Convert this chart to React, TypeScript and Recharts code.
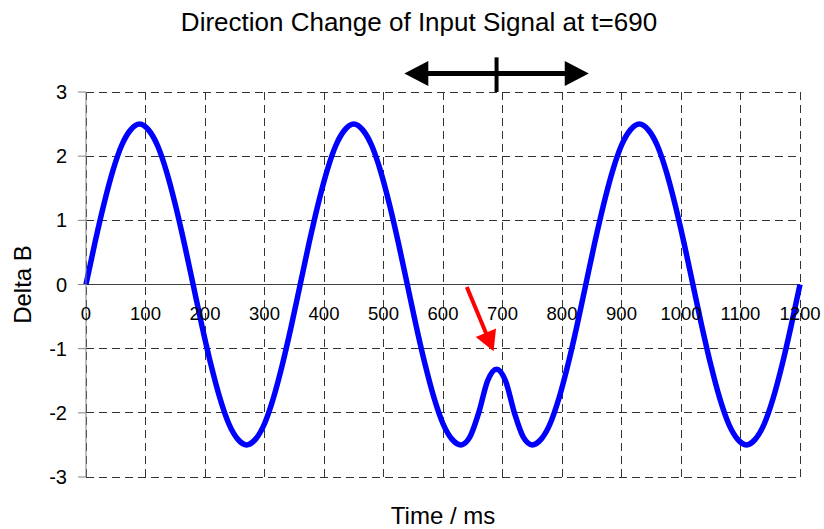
import React from "react";
import {
  LineChart,
  Line,
  XAxis,
  YAxis,
  CartesianGrid,
  ReferenceLine,
  Label,
} from "recharts";

// time axis (ms) and measured signal
const TIME = [
  0, 15, 30, 45, 60, 75, 90, 105, 120, 135, 150, 165, 180, 195, 210, 225, 240,
  255, 270, 285, 300, 315, 330, 345, 360, 375, 390, 405, 420, 435, 450, 465,
  480, 495, 510, 525, 540, 555, 570, 585, 600, 615, 630, 645, 660, 675, 690,
  705, 720, 735, 750, 765, 780, 795, 810, 825, 840, 855, 870, 885, 900, 915,
  930, 945, 960, 975, 990, 1005, 1020, 1035, 1050, 1065, 1080, 1095, 1110,
  1125, 1140, 1155, 1170, 1185, 1200,
];
const DELTA_B = [
  0, 0.65, 1.25, 1.77, 2.17, 2.41, 2.5, 2.41, 2.17, 1.77, 1.25, 0.65, 0,
  -0.65, -1.25, -1.77, -2.17, -2.41, -2.5, -2.41, -2.17, -1.77, -1.25, -0.65,
  0, 0.65, 1.25, 1.77, 2.17, 2.41, 2.5, 2.41, 2.17, 1.77, 1.25, 0.65, 0,
  -0.65, -1.25, -1.77, -2.17, -2.41, -2.5, -2.38, -2.0, -1.5, -1.32, -1.5,
  -2.0, -2.38, -2.5, -2.41, -2.17, -1.77, -1.25, -0.65, 0, 0.65, 1.25, 1.77,
  2.17, 2.41, 2.5, 2.41, 2.17, 1.77, 1.25, 0.65, 0, -0.65, -1.25, -1.77,
  -2.17, -2.41, -2.5, -2.41, -2.17, -1.77, -1.25, -0.65, 0,
];
const X_TICKS = [0, 100, 200, 300, 400, 500, 600, 700, 800, 900, 1000, 1100, 1200];
const Y_TICKS = [-3, -2, -1, 0, 1, 2, 3];

// annotations (data units)
const CHANGE_T = 690;
const SPAN_ARROW = [{ x: 535, y: 3.29 }, { x: 845, y: 3.29 }];
const SPAN_MARK = [{ x: CHANGE_T, y: 3.0 }, { x: CHANGE_T, y: 3.54 }];
const RED_ARROW = [{ x: 640, y: -0.04 }, { x: 685, y: -1.04 }];

const data = TIME.map((t, i) => ({ t, v: DELTA_B[i] }));

const W = 824;
const H = 529;
const TOP = 92;
const BOTTOM_AXIS_H = 52;
const PLOT_H = H - TOP - BOTTOM_AXIS_H;
const Y_MIN = -3;
const Y_MAX = 3;
const ZERO_Y = TOP + (PLOT_H * (Y_MAX - 0)) / (Y_MAX - Y_MIN);
const FONT = "'Liberation Sans', Arial, sans-serif";

function arrowShape(
  color: string,
  width: number,
  headLen: number,
  headHalf: number,
  atStart: boolean,
  atEnd: boolean
) {
  return (p: any) => {
    const { x1, y1, x2, y2 } = p;
    const dx = x2 - x1;
    const dy = y2 - y1;
    const len = Math.sqrt(dx * dx + dy * dy) || 1;
    const ux = dx / len;
    const uy = dy / len;
    const nx = -uy;
    const ny = ux;
    const head = (tx: number, ty: number, dir: number) => {
      const bx = tx - dir * ux * headLen;
      const by = ty - dir * uy * headLen;
      return `${tx},${ty} ${bx + nx * headHalf},${by + ny * headHalf} ${bx - nx * headHalf},${by - ny * headHalf}`;
    };
    const sx = atStart ? x1 + ux * headLen * 0.8 : x1;
    const sy = atStart ? y1 + uy * headLen * 0.8 : y1;
    const ex = atEnd ? x2 - ux * headLen * 0.8 : x2;
    const ey = atEnd ? y2 - uy * headLen * 0.8 : y2;
    return (
      <g>
        <line x1={sx} y1={sy} x2={ex} y2={ey} stroke={color} strokeWidth={width} />
        {atStart && <polygon points={head(x1, y1, -1)} fill={color} />}
        {atEnd && <polygon points={head(x2, y2, 1)} fill={color} />}
      </g>
    );
  };
}

const XTick = (props: any) => {
  const { x, payload } = props;
  return (
    <text
      x={x}
      y={ZERO_Y + 35}
      textAnchor="middle"
      fontSize={18.5}
      fill="#000"
      fontFamily={FONT}
    >
      {payload.value}
    </text>
  );
};

export default function App() {
  return (
    <div style={{ position: "absolute", left: 0, top: 0, width: W, height: H, background: "#fff" }}>
      <LineChart
        width={W}
        height={H}
        data={data}
        margin={{ top: TOP, right: 24, bottom: 0, left: 0 }}
        style={{ fontFamily: FONT }}
      >
        <CartesianGrid stroke="#333" strokeDasharray="8 5" shapeRendering="crispEdges" />
        <XAxis
          dataKey="t"
          type="number"
          domain={[0, 1200]}
          ticks={X_TICKS}
          interval={0}
          axisLine={false}
          tickLine={false}
          height={BOTTOM_AXIS_H}
          tick={<XTick />}
        >
          <Label
            value="Time / ms"
            position="insideBottom"
            offset={5}
            fill="#000"
            fontSize={24}
          />
        </XAxis>
        <YAxis
          type="number"
          domain={[Y_MIN, Y_MAX]}
          ticks={Y_TICKS}
          interval={0}
          width={86}
          stroke="#808080"
          tickSize={8}
          tickMargin={11}
          tick={{ fill: "#000", fontSize: 20 }}
        >
          <Label
            value="Delta B"
            angle={-90}
            position="insideLeft"
            offset={22}
            fill="#000"
            fontSize={24}
            style={{ textAnchor: "middle" }}
          />
        </YAxis>
        <ReferenceLine y={0} stroke="#404040" strokeWidth={1} />
        <Line
          dataKey="v"
          type="monotone"
          stroke="#0000ff"
          strokeWidth={5.5}
          dot={false}
          isAnimationActive={false}
        />
        <ReferenceLine
          segment={SPAN_ARROW}
          ifOverflow="visible"
          shape={arrowShape("#000", 5, 24, 12.5, true, true)}
        />
        <ReferenceLine
          segment={SPAN_MARK}
          ifOverflow="visible"
          stroke="#000"
          strokeWidth={4}
        />
        <ReferenceLine
          segment={RED_ARROW}
          ifOverflow="visible"
          shape={arrowShape("#ff0000", 4, 20, 11, false, true)}
        />
      </LineChart>
      <svg
        width={W}
        height={H}
        style={{ position: "absolute", left: 0, top: 0, pointerEvents: "none" }}
      >
        <text x={419} y={30.5} textAnchor="middle" fontSize={26} fill="#000" fontFamily={FONT}>
          Direction Change of Input Signal at t=690
        </text>
      </svg>
    </div>
  );
}
